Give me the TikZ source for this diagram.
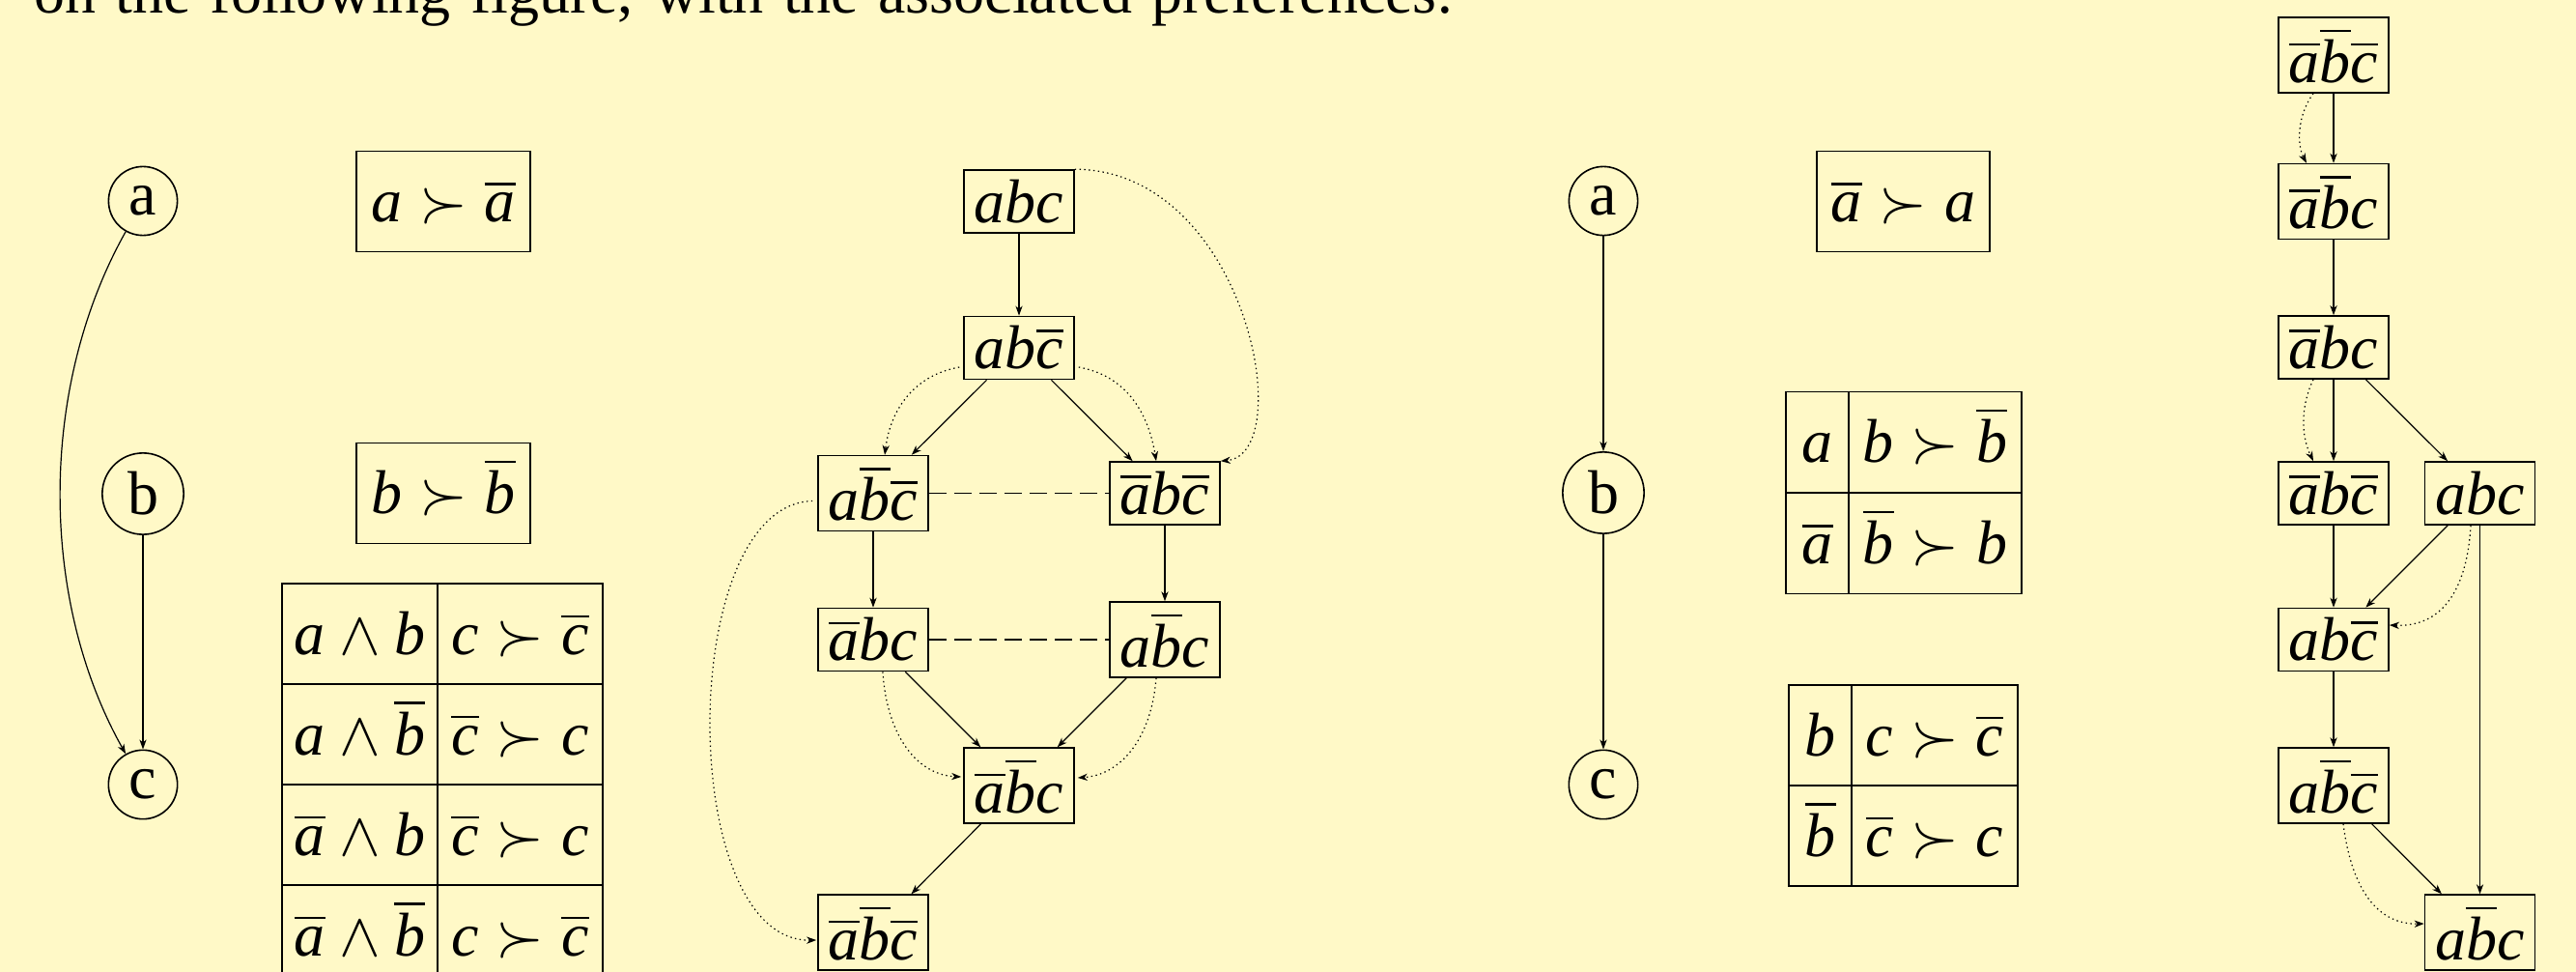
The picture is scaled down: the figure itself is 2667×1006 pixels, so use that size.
\documentclass[tikz,border=0pt]{standalone}
\usepackage{fontspec}
\setmainfont{Liberation Serif}
\usetikzlibrary{arrows.meta,calc}
% let the symbol and extension fonts scale to the large text size
\DeclareFontShape{OMS}{cmsy}{m}{n}{<->cmsy10}{}
\DeclareFontShape{OMX}{cmex}{m}{n}{<->cmex10}{}
\definecolor{paper}{RGB}{255,249,199}
% literals and their negations
\newcommand\lita{\textit{a}}
\newcommand\litb{\textit{b}}
\newcommand\litc{\textit{c}}
\newcommand\nega{\overline{\lita}}
\newcommand\negb{\overline{\litb}}
\newcommand\negc{\overline{\litc}}
\begin{document}
\begin{tikzpicture}[x=0.5pt,y=-0.5pt,
  bigfont/.style={font=\fontsize{32}{38}\selectfont},
  varnode/.style={circle,draw,line width=0.8pt,inner sep=5.2pt,bigfont},
  outcome/.style={rectangle,draw,line width=0.8pt,inner xsep=0pt,inner ysep=5pt,minimum width=57pt,bigfont},
  tcell/.style={rectangle,draw,line width=0.8pt,inner sep=0pt,text height=36.5pt,text depth=15.5pt,minimum width=#1,bigfont},
  solidarr/.style={line width=0.6pt,-{Stealth[length=5pt,width=3.6pt,inset=1.5pt]}},
  dotarr/.style={line width=0.6pt,dash pattern=on 0.7pt off 1.7pt,-{Stealth[length=5pt,width=3.6pt,inset=1.5pt]}},
  dashtie/.style={line width=0.6pt,dash pattern=on 9pt off 4pt}]
\fill[paper] (0,0) rectangle (2667,1006);
\useasboundingbox (0,0) rectangle (2667,1006);
\clip (0,0) rectangle (2667,1006);

% running text above the figure
\node[anchor=base west,inner sep=0pt,bigfont] (intro) at (35,14)
  {\makebox[735pt][s]{on the following figure, with the associated preferences:}};

% ---- first network ----
\node[varnode] (la) at (148,208) {a};
\node[varnode] (lb) at (148,511) {b};
\node[varnode] (lc) at (148,812) {c};
\draw[solidarr] (la) .. controls (40,400) and (40,620) .. (lc);
\draw[solidarr] (lb) -- (lc);

\node[tcell=90pt] (pa) at (459,208.5) {$\lita\succ\nega$};
\node[tcell=90pt] (pb) at (459,510.5) {$\litb\succ\negb$};

\node[tcell=80.5pt] (t1a) at (372.5,656) {$\lita\wedge\litb$};
\node[tcell=85.5pt] (t1b) at (538.5,656) {$\litc\succ\negc$};
\node[tcell=80.5pt] (t2a) at (372.5,760) {$\lita\wedge\negb$};
\node[tcell=85.5pt] (t2b) at (538.5,760) {$\negc\succ\litc$};
\node[tcell=80.5pt] (t3a) at (372.5,864) {$\nega\wedge\litb$};
\node[tcell=85.5pt] (t3b) at (538.5,864) {$\negc\succ\litc$};
\node[tcell=80.5pt] (t4a) at (372.5,968) {$\nega\wedge\negb$};
\node[tcell=85.5pt] (t4b) at (538.5,968) {$\litc\succ\negc$};

% ---- first preference graph ----
\node[outcome] (m1) at (1055,208.5) {$\lita\litb\litc$};
\node[outcome] (m2) at (1055,360) {$\lita\litb\negc$};
\node[outcome] (m3) at (904,510.5) {$\lita\negb\negc$};
\node[outcome] (m4) at (1206,510.5) {$\nega\litb\negc$};
\node[outcome] (m5) at (904,662) {$\nega\litb\litc$};
\node[outcome] (m6) at (1206,662) {$\lita\negb\litc$};
\node[outcome] (m7) at (1055,813) {$\nega\negb\litc$};
\node[outcome] (m8) at (904,965) {$\nega\negb\negc$};

\draw[solidarr] (m1) -- (m2);
\draw[solidarr] (m2) -- (m3);
\draw[solidarr] (m2) -- (m4);
\draw[solidarr] (m3) -- (m5);
\draw[solidarr] (m4) -- (m6);
\draw[solidarr] (m5) -- (m7);
\draw[solidarr] (m6) -- (m7);
\draw[solidarr] (m7) -- (m8);
\draw[dashtie] (m3) -- (m4);
\draw[dashtie] (m5) -- (m6);

\draw[dotarr] (m1.north east) .. controls (1290,176) and (1345,470) .. (m4.north east);
\draw[dotarr] ($(m2.west)+(-4,20)$) .. controls (948,388) and (922,422) .. ($(m3.north)+(12,0)$);
\draw[dotarr] ($(m2.east)+(4,20)$) .. controls (1162,388) and (1188,422) .. ($(m4.north)+(-9,0)$);
\draw[dotarr] ($(m3.west)+(-5,8)$) .. controls (700,522) and (700,975) .. ($(m8.west)+(-1,8)$);
\draw[dotarr] ($(m5.south)+(10,0)$) .. controls (918,762) and (950,802) .. ($(m7.west)+(-2,-9)$);
\draw[dotarr] ($(m6.south)+(-9,0)$) .. controls (1192,765) and (1160,802) .. ($(m7.east)+(3,-8)$);

% ---- second network ----
\node[varnode] (ra) at (1660,208) {a};
\node[varnode] (rb) at (1660,510) {b};
\node[varnode] (rc) at (1660,812) {c};
\draw[solidarr] (ra) -- (rb);
\draw[solidarr] (rb) -- (rc);

\node[tcell=89.5pt] (pr) at (1970.5,208.5) {$\nega\succ\lita$};

\node[tcell=32.5pt] (u1a) at (1881.5,457.5) {$\lita$};
\node[tcell=89.5pt] (u1b) at (2003.5,457.5) {$\litb\succ\negb$};
\node[tcell=32.5pt] (u2a) at (1881.5,562.5) {$\nega$};
\node[tcell=89.5pt] (u2b) at (2003.5,562.5) {$\negb\succ\litb$};

\node[tcell=32.5pt] (v1a) at (1884.5,761) {$\litb$};
\node[tcell=86pt] (v1b) at (2003,761) {$\litc\succ\negc$};
\node[tcell=32.5pt] (v2a) at (1884.5,865) {$\negb$};
\node[tcell=86pt] (v2b) at (2003,865) {$\negc\succ\litc$};

% ---- second preference graph ----
\node[outcome] (f1) at (2416,57) {$\nega\negb\negc$};
\node[outcome] (f2) at (2416,208.5) {$\nega\negb\litc$};
\node[outcome] (f3) at (2416,359.5) {$\nega\litb\litc$};
\node[outcome] (f4) at (2416,510.5) {$\nega\litb\negc$};
\node[outcome] (f5) at (2567.5,510.5) {$\lita\litb\litc$};
\node[outcome] (f6) at (2416,662) {$\lita\litb\negc$};
\node[outcome] (f7) at (2416,813) {$\lita\negb\negc$};
\node[outcome] (f8) at (2567.5,965) {$\lita\negb\litc$};

\draw[solidarr] (f1) -- (f2);
\draw[solidarr] (f2) -- (f3);
\draw[solidarr] (f3) -- (f4);
\draw[solidarr] (f3) -- (f5);
\draw[solidarr] (f4) -- (f6);
\draw[solidarr] (f5) -- (f6);
\draw[solidarr] (f5) -- (f8);
\draw[solidarr] (f6) -- (f7);
\draw[solidarr] (f7) -- (f8);

\draw[dotarr] ($(f1.south)+(-21,0)$) .. controls (2378,120) and (2378,150) .. ($(f2.north)+(-28,0)$);
\draw[dotarr] ($(f3.south)+(-21,0)$) .. controls (2382,420) and (2382,450) .. ($(f4.north)+(-21,0)$);
\draw[dotarr] ($(f5.south)+(-9.5,0)$) .. controls (2554,614) and (2526,649) .. ($(f6.east)+(0,-15)$);
\draw[dotarr] ($(f7.south)+(10,0)$) .. controls (2435,923) and (2463,957) .. ($(f8.west)+(0,-9)$);
\end{tikzpicture}
\end{document}
